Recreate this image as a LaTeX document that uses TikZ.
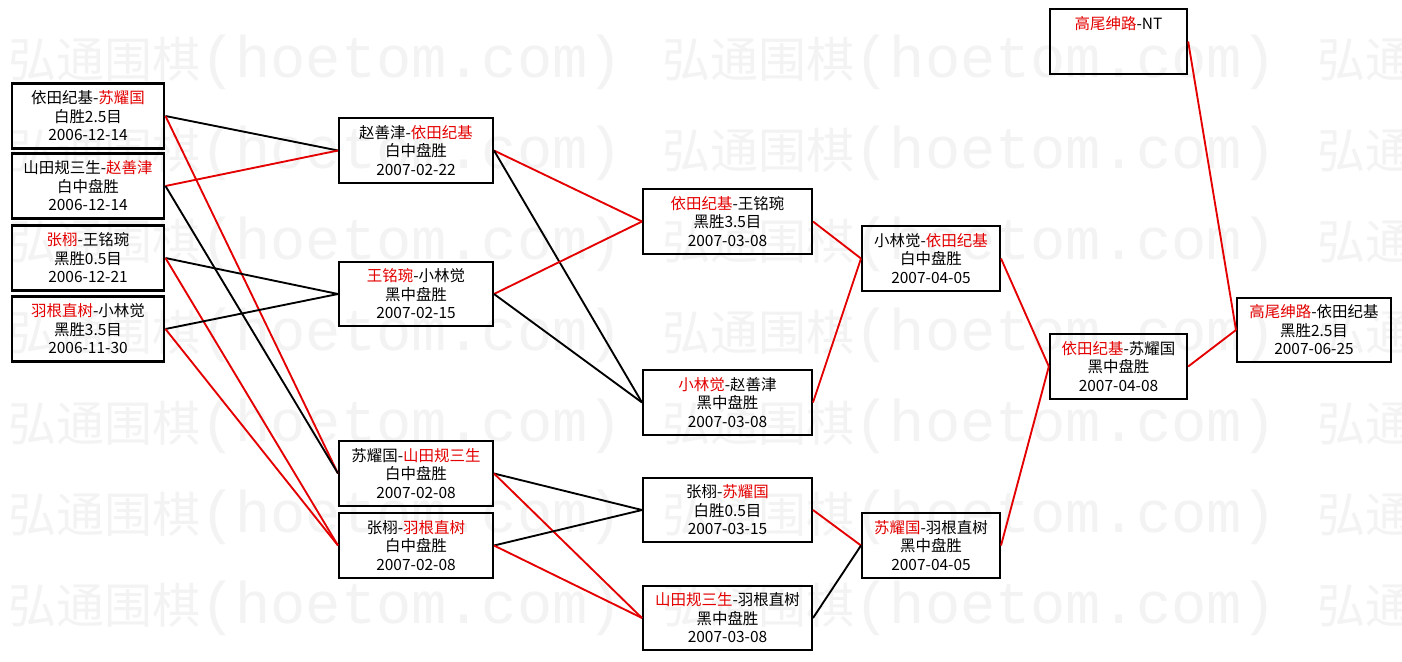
\documentclass[tikz,border=0pt]{standalone}
\usepackage{fontspec}
\setmainfont{Noto Sans CJK SC}
\newfontfamily\wmmono{Liberation Mono}
\definecolor{winred}{RGB}{228,0,0}
\definecolor{wmgray}{RGB}{243,243,243}
\newcommand{\wn}[1]{\textcolor{winred}{#1}}
\tikzset{
  game/.style={draw, line width=1.5pt, inner sep=0pt, minimum height=48.5pt,
    align=center, font=\fontsize{11.6}{13.9}\selectfont},
  seed/.style={game, line width=2.2pt},
  lose/.style={line width=1.4pt, black},
  win/.style={line width=1.4pt, winred},
}
\begin{document}
\begin{tikzpicture}[x=0.75pt, y=-0.75pt]

\fill[white] (0,0) rectangle (1402,661);
\useasboundingbox (0,0) rectangle (1402,661);

% watermark
\begin{scope}
\clip (0,0) rectangle (1402,661);
\foreach \r in {0,...,6}
  \node[anchor=west, inner sep=0pt, text=wmgray, font=\fontsize{36}{36}\selectfont] (wm\r) at (8,62+91*\r)
    {弘通围棋{\wmmono\fontsize{44}{44}\selectfont(hoetom.com)}\hspace{30pt}弘通围棋{\wmmono\fontsize{44}{44}\selectfont(hoetom.com)}\hspace{30pt}弘通};
\end{scope}

% first round
\node[seed, minimum width=114pt] (r1a) at (88,116) {依田纪基-\wn{苏耀国}\\白胜2.5目\\2006-12-14};
\node[seed, minimum width=114pt] (r1b) at (88,186) {山田规三生-\wn{赵善津}\\白中盘胜\\2006-12-14};
\node[seed, minimum width=114pt] (r1c) at (88,258) {\wn{张栩}-王铭琬\\黑胜0.5目\\2006-12-21};
\node[seed, minimum width=114pt] (r1d) at (88,329) {\wn{羽根直树}-小林觉\\黑胜3.5目\\2006-11-30};

% second round
\node[game, minimum width=115.5pt] (r2a) at (416,150.5) {赵善津-\wn{依田纪基}\\白中盘胜\\2007-02-22};
\node[game, minimum width=115.5pt] (r2b) at (416,294) {\wn{王铭琬}-小林觉\\黑中盘胜\\2007-02-15};
\node[game, minimum width=115.5pt] (r2c) at (416,473.5) {苏耀国-\wn{山田规三生}\\白中盘胜\\2007-02-08};
\node[game, minimum width=115.5pt] (r2d) at (416,545.5) {张栩-\wn{羽根直树}\\白中盘胜\\2007-02-08};

% third round
\node[game, minimum width=126.75pt] (r3a) at (727.5,221.5) {\wn{依田纪基}-王铭琬\\黑胜3.5目\\2007-03-08};
\node[game, minimum width=126.75pt] (r3b) at (727.5,402.5) {\wn{小林觉}-赵善津\\黑中盘胜\\2007-03-08};
\node[game, minimum width=126.75pt] (r3c) at (727.5,510) {张栩-\wn{苏耀国}\\白胜0.5目\\2007-03-15};
\node[game, minimum width=126.75pt] (r3d) at (727.5,618) {\wn{山田规三生}-羽根直树\\黑中盘胜\\2007-03-08};

% fourth round
\node[game, minimum width=103.5pt] (r4a) at (931,258.5) {小林觉-\wn{依田纪基}\\白中盘胜\\2007-04-05};
\node[game, minimum width=103.5pt] (r4b) at (931,545.5) {\wn{苏耀国}-羽根直树\\黑中盘胜\\2007-04-05};

% challenger and title
\node[game, minimum width=103pt] (r5) at (1118.5,366.5) {\wn{依田纪基}-苏耀国\\黑中盘胜\\2007-04-08};
\node[game, minimum width=103pt] (top) at (1118.5,41.5) {\wn{高尾绅路}-NT\\~\\~};
\node[game, minimum width=115.5pt] (final) at (1314,330) {\wn{高尾绅路}-依田纪基\\黑胜2.5目\\2007-06-25};

% connectors
\draw[lose] (r1a.east) -- (r2a.west);
\draw[win] (r1a.east) -- (r2c.west);
\draw[win] (r1b.east) -- (r2a.west);
\draw[lose] (r1b.east) -- (r2c.west);
\draw[lose] (r1c.east) -- (r2b.west);
\draw[win] (r1c.east) -- (r2d.west);
\draw[lose] (r1d.east) -- (r2b.west);
\draw[win] (r1d.east) -- (r2d.west);

\draw[win] (r2a.east) -- (r3a.west);
\draw[lose] (r2a.east) -- (r3b.west);
\draw[win] (r2b.east) -- (r3a.west);
\draw[lose] (r2b.east) -- (r3b.west);
\draw[lose] (r2c.east) -- (r3c.west);
\draw[win] (r2c.east) -- (r3d.west);
\draw[lose] (r2d.east) -- (r3c.west);
\draw[win] (r2d.east) -- (r3d.west);

\draw[win] (r3a.east) -- (r4a.west);
\draw[win] (r3b.east) -- (r4a.west);
\draw[win] (r3c.east) -- (r4b.west);
\draw[lose] (r3d.east) -- (r4b.west);

\draw[win] (r4a.east) -- (r5.west);
\draw[win] (r4b.east) -- (r5.west);
\draw[win] (r5.east) -- (final.west);
\draw[win] (top.east) -- (final.west);

\end{tikzpicture}
\end{document}
